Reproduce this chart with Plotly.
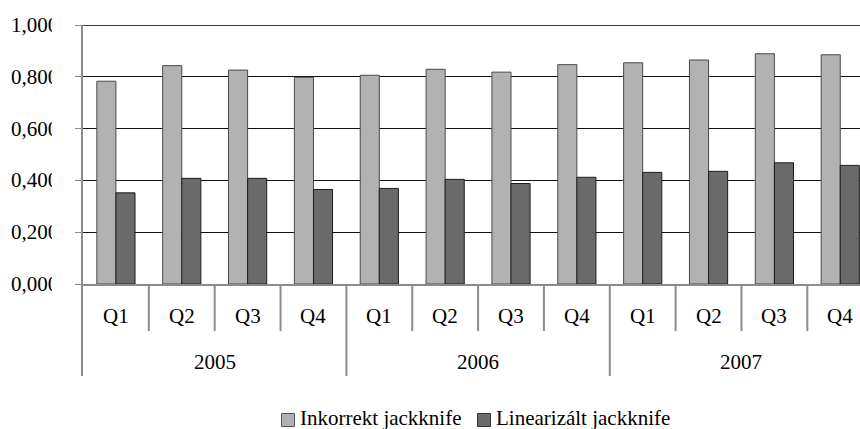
import plotly.graph_objects as go

# Quarterly values per method
years = ["2005", "2006", "2007"]
quarters = ["Q1", "Q2", "Q3", "Q4"]
inkorrekt = [0.783, 0.843, 0.826, 0.798,
             0.806, 0.829, 0.818, 0.847,
             0.854, 0.865, 0.889, 0.885]
linearizalt = [0.352, 0.408, 0.408, 0.365,
               0.369, 0.404, 0.388, 0.412,
               0.431, 0.435, 0.468, 0.458]
y_ticks = [0.0, 0.2, 0.4, 0.6, 0.8, 1.0]
y_ticktext = ["0,000", "0,200", "0,400", "0,600", "0,800", "1,000"]

series_names = ["Inkorrekt jackknife", "Linearizált jackknife"]
fills = ["#b2b2b2", "#6a6a6a"]
edges = ["#4a4a4a", "#1e1e1e"]
legend_edges = ["#555555", "#333333"]

FONT = "Liberation Serif"
GREY = "#8c8c8c"

n = len(years) * len(quarters)
xpos = list(range(n))

fig = go.Figure()
for name, vals, fc, ec in zip(series_names, [inkorrekt, linearizalt], fills, edges):
    fig.add_trace(go.Bar(
        x=xpos, y=vals, name=name,
        marker=dict(color=fc, line=dict(color=ec, width=1)),
        showlegend=False,
    ))

shapes = []
annotations = []

# top border line at 1.00
shapes.append(dict(type="line", xref="paper", yref="y", x0=0, x1=1, y0=1, y1=1,
                   line=dict(color="#3c3c3c", width=2), layer="above"))

# category separators below the axis (short between quarters, long between years)
for k in range(n - 1):
    long_sep = (k + 1) % len(quarters) == 0
    shapes.append(dict(type="line", xref="x", yref="paper", ysizemode="pixel", yanchor=0,
                       x0=k + 0.5, x1=k + 0.5, y0=0, y1=-92 if long_sep else -47,
                       line=dict(color=GREY, width=2)))
# left axis extension through the label rows
shapes.append(dict(type="line", xref="paper", yref="paper", xsizemode="pixel", xanchor=0,
                   ysizemode="pixel", yanchor=0, x0=-1, x1=-1, y0=0, y1=-92,
                   line=dict(color=GREY, width=2)))

# value-axis labels, left aligned in a fixed column
for v, t in zip(y_ticks, y_ticktext):
    annotations.append(dict(x=0, y=v, xref="paper", yref="y", xshift=-72,
                            text=t, showarrow=False, xanchor="left", yanchor="middle",
                            borderpad=0, borderwidth=0,
                            font=dict(family=FONT, size=21, color="#000")))
# the label column is narrower than the labels, so the last digit is cut off
for v in y_ticks:
    annotations.append(dict(x=0, y=v, xref="paper", yref="y", xshift=-31.5,
                            text=" ", showarrow=False, xanchor="left", yanchor="middle",
                            width=16, height=26, bgcolor="white",
                            borderpad=0, borderwidth=0,
                            font=dict(family=FONT, size=21, color="#000")))

# quarter and year labels
for i in range(n):
    annotations.append(dict(x=i, y=0, xref="x", yref="paper", yshift=-32,
                            text=quarters[i % len(quarters)], showarrow=False,
                            xanchor="center", yanchor="middle",
                            font=dict(family=FONT, size=21, color="#000")))
for j, yr in enumerate(years):
    annotations.append(dict(x=j * len(quarters) + (len(quarters) - 1) / 2, y=0,
                            xref="x", yref="paper", yshift=-78,
                            text=yr, showarrow=False, xanchor="center", yanchor="middle",
                            font=dict(family=FONT, size=21, color="#000")))

# legend
legend_x = [198.5, 394.5]
text_x = [217, 413]
for name, fc, lc, sx, tx in zip(series_names, fills, legend_edges, legend_x, text_x):
    shapes.append(dict(type="rect", xref="paper", yref="paper", xsizemode="pixel", xanchor=0,
                       ysizemode="pixel", yanchor=0, x0=sx, x1=sx + 13, y0=-129.5, y1=-142.5,
                       fillcolor=fc, line=dict(color=lc, width=1)))
    annotations.append(dict(x=0, y=0, xref="paper", yref="paper", xshift=tx, yshift=-134,
                            text=name, showarrow=False, xanchor="left", yanchor="middle",
                            borderpad=0, borderwidth=0,
                            font=dict(family=FONT, size=21, color="#000")))

fig.update_layout(
    width=860, height=429,
    margin=dict(l=83, r=0, t=25, b=145, pad=0),
    paper_bgcolor="white", plot_bgcolor="white",
    barmode="group", bargap=0.42, bargroupgap=0,
    font=dict(family=FONT, size=21, color="#000"),
    shapes=shapes, annotations=annotations,
    showlegend=False,
)
fig.update_xaxes(range=[-0.5, 11.3], showticklabels=False, ticks="", showgrid=False,
                 zeroline=False, showline=True, linecolor=GREY, linewidth=2)
fig.update_yaxes(range=[0, 1], tickvals=y_ticks, showticklabels=False,
                 ticks="outside", ticklen=6, tickwidth=1, tickcolor=GREY,
                 showgrid=True, gridcolor="#111111", gridwidth=1,
                 zeroline=False, showline=True, linecolor=GREY, linewidth=2)

fig.write_html("out.html")
